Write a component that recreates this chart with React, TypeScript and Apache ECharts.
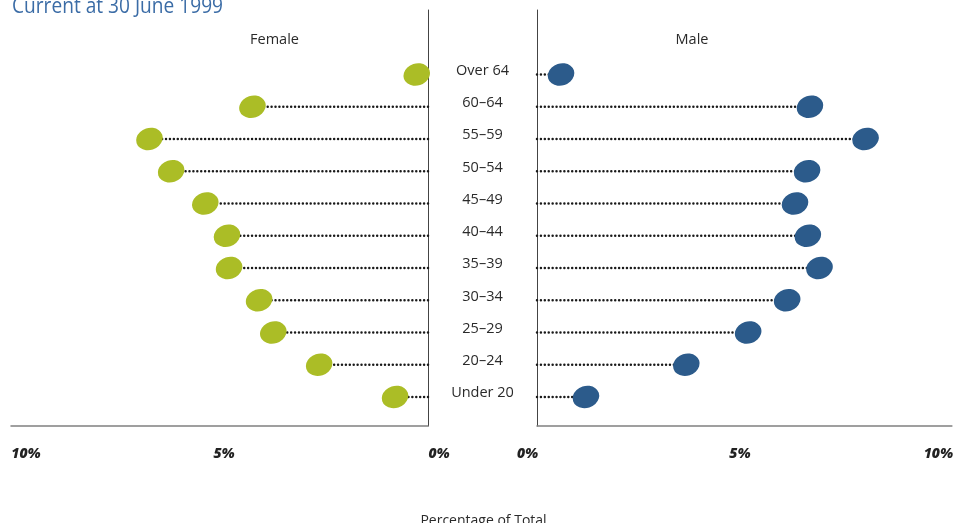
import React, { useEffect, useRef } from "react";
import * as echarts from "echarts";

const categories = ["Over 64", "60–64", "55–59", "50–54", "45–49", "40–44", "35–39", "30–34", "25–29", "20–24", "Under 20"];
const female = [0.27, 4.21, 6.68, 6.16, 5.34, 4.82, 4.77, 4.05, 3.71, 2.61, 0.79];
const male = [0.58, 6.58, 7.92, 6.51, 6.22, 6.53, 6.81, 6.03, 5.09, 3.6, 1.18];
const tickLabels = ["0%", "5%", "10%"];
const titleText = "Current at 30 June 1999";
const panelTitles = ["Female", "Male"];
const axisTitle = "Percentage of Total";

const FONT = "'Open Sans', 'Noto Sans', sans-serif";
const GREEN = "#abbd26";
const BLUE = "#2c5b8b";

export default function App() {
  const ref = useRef<HTMLDivElement>(null);
  useEffect(() => {
    if (!ref.current) return;
    const chart = echarts.init(ref.current, undefined, { renderer: "svg" });

    const tickLabel = (side: "left" | "right") => (v: number) => {
      const idx = v / 5;
      if (!Number.isInteger(idx) || !tickLabels[idx]) return "";
      return `{${side}${idx}|${tickLabels[idx]}}`;
    };
    const base = { fontFamily: FONT, fontSize: 14, fontWeight: 800, fontStyle: "italic", color: "#222" };
    const richLeft = {
      left0: { ...base, padding: [0, 0, 0, 22] },
      left1: { ...base, padding: [0, 0, 0, 9] },
      left2: { ...base, padding: [0, 0, 0, 30] },
    };
    const richRight = {
      right0: { ...base, padding: [0, 19, 0, 0] },
      right1: { ...base, padding: [0, 9, 0, 0] },
      right2: { ...base, padding: [0, 27, 0, 0] },
    };

    const xAxisCommon = {
      type: "value",
      min: 0,
      max: 10,
      interval: 5,
      axisTick: { show: false },
      splitLine: { show: false },
      axisLine: { show: true, onZero: false, lineStyle: { color: "#808080", width: 1.5 } },
    };
    const yAxisCommon = {
      type: "value",
      inverse: true,
      min: -2,
      max: 10.9,
      interval: 1,
      axisTick: { show: false },
      splitLine: { show: false },
      axisLine: { show: true, onZero: false, lineStyle: { color: "#444", width: 1 } },
    };

    const dotted = (data: number[], idx: number) => ({
      type: "custom",
      xAxisIndex: idx,
      yAxisIndex: idx,
      z: 1,
      data: data.map((v, i) => [v, i]),
      renderItem: (_p: any, api: any) => {
        const v = api.value(0);
        const i = api.value(1);
        const p0 = api.coord([0, i]);
        const p1 = api.coord([v, i]);
        return {
          type: "line",
          shape: { x1: p0[0], y1: p0[1], x2: p1[0], y2: p1[1] },
          style: { stroke: "#1a1a1a", lineWidth: 2.5, lineDash: [0.01, 3.9], lineCap: "round" },
        };
      },
    });
    const dots = (data: number[], idx: number, color: string) => ({
      type: "scatter",
      xAxisIndex: idx,
      yAxisIndex: idx,
      z: 3,
      symbol: "circle",
      symbolSize: [27, 22],
      symbolRotate: 18,
      itemStyle: { color, opacity: 1 },
      data: data.map((v, i) => [v, i]),
    });

    chart.setOption({
      animation: false,
      grid: [
        { left: 11, top: 10, width: 417, height: 416 },
        { left: 537, top: 10, width: 417, height: 416 },
      ],
      xAxis: [
        {
          ...xAxisCommon,
          gridIndex: 0,
          inverse: true,
          axisLabel: { margin: 19, formatter: tickLabel("left"), rich: richLeft, ...base },
        },
        {
          ...xAxisCommon,
          gridIndex: 1,
          axisLabel: { margin: 19, formatter: tickLabel("right"), rich: richRight, ...base },
        },
      ],
      yAxis: [
        {
          ...yAxisCommon,
          gridIndex: 0,
          position: "right",
          axisLabel: {
            show: true,
            margin: 54.5,
            align: "center",
            verticalAlign: "bottom",
            lineHeight: 10,
            fontFamily: FONT,
            fontSize: 14.5,
            color: "#2a2a2a",
            formatter: (v: number) => (Number.isInteger(v) && categories[v] ? categories[v] : ""),
          },
        },
        {
          ...yAxisCommon,
          gridIndex: 1,
          position: "left",
          axisLabel: { show: false },
        },
      ],
      graphic: [
        {
          type: "text",
          x: 12,
          y: -7,
          scaleX: 0.87,
          style: { text: titleText, fontFamily: FONT, fontSize: 22, fill: "#3b6ca6" },
        },
        {
          type: "text",
          x: 274.5,
          y: 38,
          style: { text: panelTitles[0], fontFamily: FONT, fontSize: 14.5, fill: "#2a2a2a", align: "center", verticalAlign: "middle" },
        },
        {
          type: "text",
          x: 692,
          y: 38,
          style: { text: panelTitles[1], fontFamily: FONT, fontSize: 14.5, fill: "#2a2a2a", align: "center", verticalAlign: "middle" },
        },
        {
          type: "text",
          x: 483.5,
          y: 519,
          style: { text: axisTitle, fontFamily: FONT, fontSize: 14, fill: "#2a2a2a", align: "center", verticalAlign: "middle" },
        },
      ],
      series: [dotted(female, 0), dotted(male, 1), dots(female, 0, GREEN), dots(male, 1, BLUE)],
    });
    return () => chart.dispose();
  }, []);
  return <div ref={ref} style={{ position: "fixed", left: 0, top: 0, width: 956, height: 523 }} />;
}
